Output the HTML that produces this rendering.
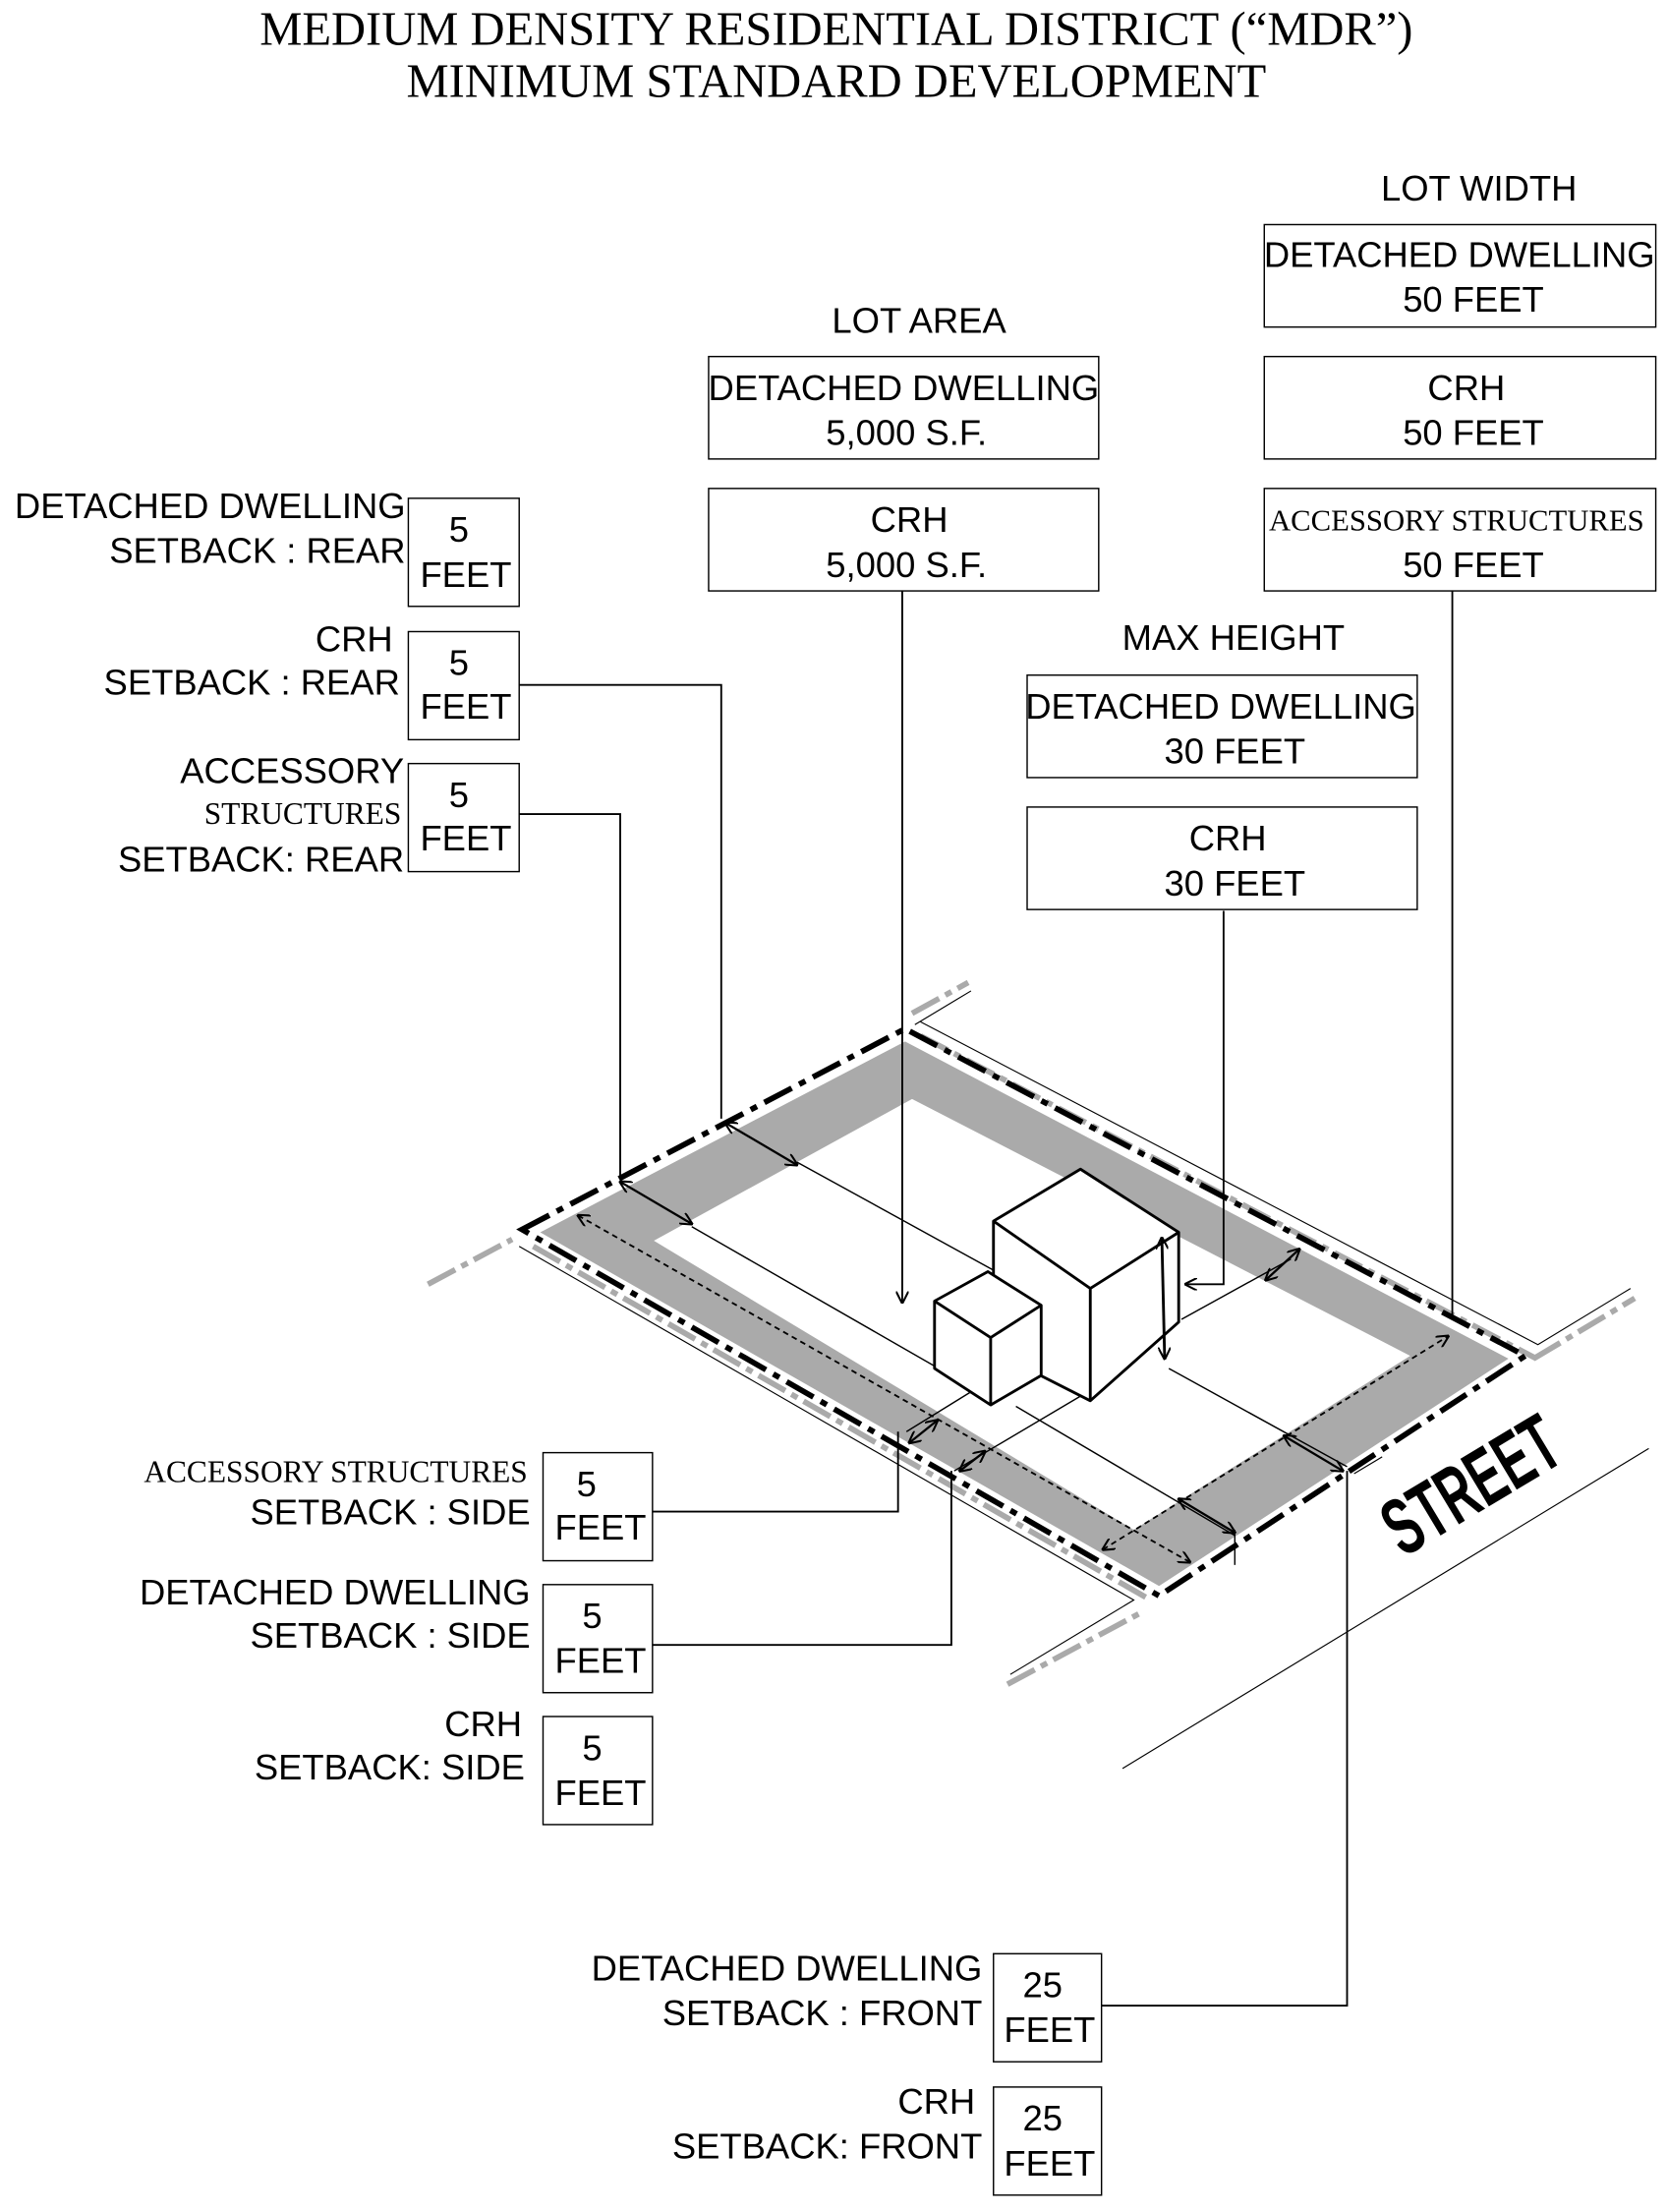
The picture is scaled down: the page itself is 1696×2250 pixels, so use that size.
<!DOCTYPE html>
<html><head><meta charset="utf-8"><style>
html,body{margin:0;padding:0;background:#fff;}
svg{display:block;}
text{font-family:"Liberation Sans",sans-serif;fill:#000;}
.s{font-family:"Liberation Serif",serif;}
</style></head><body>
<svg width="1696" height="2250" viewBox="0 0 1188 1576" xmlns="http://www.w3.org/2000/svg">
<defs>
<marker id="a" viewBox="0 0 10 10" refX="9" refY="5" markerWidth="9" markerHeight="9" orient="auto-start-reverse" markerUnits="userSpaceOnUse"><path d="M0,0 L10,5 L0,10" fill="none" stroke="#000" stroke-width="1.6"/></marker>
</defs>
<rect width="1188" height="1576" fill="#fff"/>
<text class="s" x="596" y="32" font-size="34" text-anchor="middle">MEDIUM DENSITY RESIDENTIAL DISTRICT (“MDR”)</text>
<text class="s" x="596" y="69" font-size="34" text-anchor="middle">MINIMUM STANDARD DEVELOPMENT</text>

<g fill="none" stroke="#000" stroke-width="1">
<rect x="901" y="160" width="279" height="73"/>
<rect x="901" y="254" width="279" height="73"/>
<rect x="901" y="348" width="279" height="73"/>
<rect x="505" y="254" width="278" height="73"/>
<rect x="505" y="348" width="278" height="73"/>
<rect x="732" y="481" width="278" height="73"/>
<rect x="732" y="575" width="278" height="73"/>
<rect x="291" y="355" width="79" height="77"/>
<rect x="291" y="450" width="79" height="77"/>
<rect x="291" y="544" width="79" height="77"/>
<rect x="387" y="1035" width="78" height="77"/>
<rect x="387" y="1129" width="78" height="77"/>
<rect x="387" y="1223" width="78" height="77"/>
<rect x="708" y="1392" width="77" height="77"/>
<rect x="708" y="1487" width="77" height="77"/>
</g>

<g font-size="25.5" text-anchor="middle">
<text x="1054" y="143">LOT  WIDTH</text>
<text x="1040" y="190">DETACHED DWELLING</text><text x="1050" y="222">50 FEET</text>
<text x="1045" y="285">CRH</text><text x="1050" y="317">50 FEET</text>
<text class="s" x="1038" y="378" font-size="21.5">ACCESSORY STRUCTURES</text><text x="1050" y="411">50 FEET</text>
<text x="655" y="237">LOT  AREA</text>
<text x="644" y="285">DETACHED DWELLING</text><text x="646" y="317">5,000 S.F.</text>
<text x="648" y="379">CRH</text><text x="646" y="411">5,000 S.F.</text>
<text x="879" y="463">MAX HEIGHT</text>
<text x="870" y="512">DETACHED DWELLING</text><text x="880" y="544">30 FEET</text>
<text x="875" y="606">CRH</text><text x="880" y="638">30 FEET</text>
<text x="327" y="386">5</text><text x="332" y="418">FEET</text>
<text x="327" y="481">5</text><text x="332" y="512">FEET</text>
<text x="327" y="575">5</text><text x="332" y="606">FEET</text>
<text x="418" y="1066">5</text><text x="428" y="1097">FEET</text>
<text x="422" y="1160">5</text><text x="428" y="1192">FEET</text>
<text x="422" y="1254">5</text><text x="428" y="1286">FEET</text>
<text x="743" y="1423">25</text><text x="748" y="1455">FEET</text>
<text x="743" y="1518">25</text><text x="748" y="1550">FEET</text>
</g>
<g font-size="25.5" text-anchor="end">
<text x="289" y="369">DETACHED DWELLING</text><text x="289" y="401">SETBACK : REAR</text>
<text x="280" y="464">CRH</text><text x="285" y="495">SETBACK : REAR</text>
<text x="288" y="558">ACCESSORY</text><text class="s" x="286" y="587" font-size="22">STRUCTURES</text><text x="288" y="621">SETBACK: REAR</text>
<text x="376" y="1056" font-size="22" class="s">ACCESSORY  STRUCTURES</text><text x="378" y="1086">SETBACK : SIDE</text>
<text x="378" y="1143">DETACHED DWELLING</text><text x="378" y="1174">SETBACK : SIDE</text>
<text x="372" y="1237">CRH</text><text x="374" y="1268">SETBACK: SIDE</text>
<text x="700" y="1411">DETACHED DWELLING</text><text x="700" y="1443">SETBACK : FRONT</text>
<text x="695" y="1506">CRH</text><text x="700" y="1538">SETBACK: FRONT</text>
</g>

<!-- gray setback band -->
<path d="M385,878 L645,742 L1075,968 L826,1130 Z M466,884 L650,783 L1005,966 L808,1090 Z" fill="#aaa" fill-rule="evenodd"/>

<!-- outer gray property lines -->
<g fill="none" stroke="#aaa" stroke-width="4" stroke-dasharray="22,5,5,5">
<path d="M305,915 L365,883"/>
<path d="M380,888 L820,1140"/>
<path d="M650,722 L690,700"/>
<path d="M656,738 L1095,968"/>
<path d="M718,1200 L815,1148"/>
<path d="M1093,968 L1165,925"/>
</g>
<g fill="none" stroke="#000" stroke-width="0.8">
<path d="M370,888 L808,1140 L720,1193"/><path d="M652,730 L692,706"/><path d="M656,728 L1096,958 L1162,918"/>
<path d="M800,1260 L1175,1032"/><path d="M965,1050 L985,1038"/>
</g>
<!-- black lot line -->
<path d="M372,876 L645,733 L1087,966 L826,1137 Z" fill="none" stroke="#000" stroke-width="4" stroke-dasharray="22,6,5,6"/>

<!-- thin lines -->
<g fill="none" stroke="#000" stroke-width="1">
<path d="M568,828 L708,905"/>
<path d="M493,874 L669,975"/>
<path d="M724,1002 L880,1094"/>
<path d="M842,940 L920,897"/>
<path d="M833,975 L960,1045"/>
<path d="M646,1020 L706,983"/><path d="M680,1048 L778,990"/>
<path d="M880,1090 L880,1115"/>
</g>

<!-- buildings -->
<g fill="#fff" stroke="#000" stroke-width="2" stroke-linejoin="round">
<path d="M708,870 L770,833 L840,878 L840,942 L777,998 L708,963 Z"/>
<path d="M708,870 L777,918 L840,878 M777,918 L777,998" fill="none"/>
<path d="M666,927 L704,906 L742,930 L742,980 L706,1001 L666,975 Z"/>
<path d="M666,927 L706,953 L742,930 M706,953 L706,1001" fill="none"/>
</g>

<!-- connectors -->
<g fill="none" stroke="#000" stroke-width="1.3">
<path d="M370,488 L514,488 L514,797"/>
<path d="M370,580 L442,580 L442,838"/>
<path d="M643,421 L643,928" marker-end="url(#a)"/>
<path d="M872,649 L872,915 L845,915" marker-end="url(#a)"/>
<path d="M1035,421 L1035,940"/>
<path d="M465,1077 L640,1077 L640,1020"/>
<path d="M465,1172 L678,1172 L678,1048"/>
<path d="M785,1429 L960,1429 L960,1048"/>
</g>
<!-- dimension arrows -->
<g fill="none" stroke="#000" stroke-width="1.6">
<path d="M517,800 L568,830" marker-start="url(#a)" marker-end="url(#a)"/>
<path d="M442,842 L493,872" marker-start="url(#a)" marker-end="url(#a)"/>
<path d="M828,882 L830,968" marker-start="url(#a)" marker-end="url(#a)" stroke-width="2"/>
<path d="M902,912 L926,890" marker-start="url(#a)" marker-end="url(#a)"/>
<path d="M648,1028 L668,1012" marker-start="url(#a)" marker-end="url(#a)"/>
<path d="M684,1048 L702,1034" marker-start="url(#a)" marker-end="url(#a)"/>
<path d="M915,1023 L957,1048" marker-start="url(#a)" marker-end="url(#a)"/>
<path d="M840,1068 L880,1092" marker-start="url(#a)" marker-end="url(#a)"/>
</g>
<g fill="none" stroke="#000" stroke-width="1.3" stroke-dasharray="4,3">
<path d="M412,866 L848,1113" marker-start="url(#a)" marker-end="url(#a)"/>
<path d="M786,1104 L1032,952" marker-start="url(#a)" marker-end="url(#a)"/>
</g>

<text x="0" y="0" font-size="46" transform="translate(1000,1110) rotate(-31) scale(0.75,1.25)" style="font-weight:bold;font-family:'Liberation Sans Narrow','Liberation Sans',sans-serif">STREET</text>
</svg>
</body></html>
